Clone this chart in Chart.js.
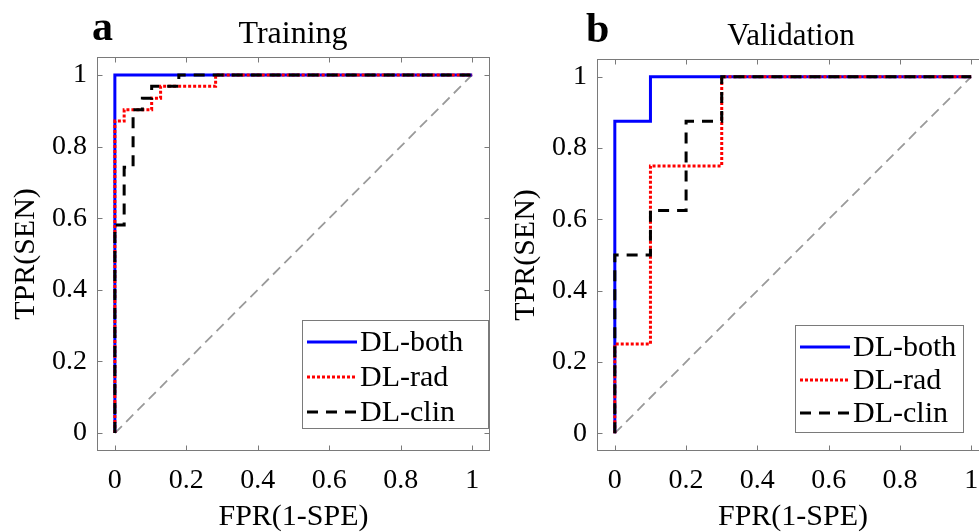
<!DOCTYPE html>
<html>
<head>
<meta charset="utf-8">
<script src="https://cdn.jsdelivr.net/npm/chart.js@4.4.1/dist/chart.umd.min.js"></script>
<style>
  html, body { margin: 0; padding: 0; background: #fff; }
  body { position: relative; width: 979px; height: 532px; overflow: hidden; }
  canvas { position: absolute; top: 0; }
  .lbl {
    position: absolute;
    font-family: 'Liberation Serif', 'Times New Roman', serif;
    line-height: 1;
    white-space: nowrap;
    color: #000;
  }
</style>
</head>
<body>
<canvas id="chartA" width="495" height="532" style="left:0px"></canvas>
<canvas id="chartB" width="495" height="532" style="left:500px"></canvas>

<div class="lbl" style="left:92px;top:5px;font-size:42px;font-weight:bold">a</div>
<div class="lbl" style="left:293px;top:16px;font-size:32px;transform:translateX(-50%)">Training</div>
<div class="lbl" style="left:586px;top:7px;font-size:42px;font-weight:bold">b</div>
<div class="lbl" style="left:791px;top:19px;font-size:31px;transform:translateX(-50%)">Validation</div>

<script>
// tick values / labels (both axes)
const TICKS = [0, 0.2, 0.4, 0.6, 0.8, 1];
const TICK_LABELS = ['0', '0.2', '0.4', '0.6', '0.8', '1'];

// series names
const SERIES = ['DL-both', 'DL-rad', 'DL-clin'];

// Training ROC (step curves)
const TRAIN_BOTH_FPR = [0, 0, 1];
const TRAIN_BOTH_TPR = [0, 1, 1];
const TRAIN_RAD_FPR = [0, 0, 0.026, 0.026, 0.103, 0.103, 0.128, 0.128, 0.282, 0.282, 1];
const TRAIN_RAD_TPR = [0, 0.871, 0.871, 0.903, 0.903, 0.935, 0.935, 0.968, 0.968, 1, 1];
const TRAIN_CLIN_FPR = [0, 0, 0.026, 0.026, 0.051, 0.051, 0.077, 0.077, 0.103, 0.103, 0.179, 0.179, 1];
const TRAIN_CLIN_TPR = [0, 0.581, 0.581, 0.742, 0.742, 0.903, 0.903, 0.935, 0.935, 0.968, 0.968, 1, 1];

// Validation ROC (step curves)
const VAL_BOTH_FPR = [0, 0, 0.1, 0.1, 1];
const VAL_BOTH_TPR = [0, 0.875, 0.875, 1, 1];
const VAL_RAD_FPR = [0, 0, 0.1, 0.1, 0.3, 0.3, 1];
const VAL_RAD_TPR = [0, 0.25, 0.25, 0.75, 0.75, 1, 1];
const VAL_CLIN_FPR = [0, 0, 0.1, 0.1, 0.2, 0.2, 0.3, 0.3, 1];
const VAL_CLIN_TPR = [0, 0.5, 0.5, 0.625, 0.625, 0.875, 0.875, 1, 1];

// chance line
const DIAG_FPR = [0, 1];
const DIAG_TPR = [0, 1];

const FONT = "'Liberation Serif', 'Times New Roman', serif";
const AXIS_COLOR = '#7a7a7a';

const toPoints = (xs, ys) => xs.map((v, i) => ({ x: v, y: ys[i] }));

function makeDatasets(both, rad, clin) {
  return [
    { label: SERIES[2], data: clin, borderColor: '#000000', borderWidth: 3,
      borderDash: [11, 8], order: 0, inLegend: 2 },
    { label: SERIES[1], data: rad, borderColor: '#ff0000', borderWidth: 3,
      borderDash: [3, 2], order: 1, inLegend: 1 },
    { label: SERIES[0], data: both, borderColor: '#0000ff', borderWidth: 3,
      borderDash: [], order: 2, inLegend: 0 },
    { label: 'chance', data: toPoints(DIAG_FPR, DIAG_TPR), borderColor: '#9a9a9a',
      borderWidth: 1.8, borderDash: [10, 6], order: 3 },
  ].map(d => Object.assign({ showLine: true, pointRadius: 0, fill: false, tension: 0 }, d));
}

// box, inward ticks and legend (MATLAB look)
const framePlugin = {
  id: 'frame',
  afterDatasetsDraw(chart, args, opts) {
    const { ctx, chartArea: a, scales: { x, y } } = chart;
    const L = Math.round(a.left) + 0.5, R = Math.round(a.right) - 0.5;
    const T = Math.round(a.top) + 0.5, B = Math.round(a.bottom) - 0.5;
    ctx.save();
    ctx.strokeStyle = AXIS_COLOR;
    ctx.lineWidth = 1;
    ctx.setLineDash([]);
    ctx.strokeRect(L, T, R - L, B - T);
    ctx.beginPath();
    TICKS.forEach(v => {
      const px = Math.round(x.getPixelForValue(v)) + 0.5;
      ctx.moveTo(px, B); ctx.lineTo(px, B - 5);
      ctx.moveTo(px, T); ctx.lineTo(px, T + 5);
      const py = Math.round(y.getPixelForValue(v)) + 0.5;
      ctx.moveTo(L, py); ctx.lineTo(L + 5, py);
      ctx.moveTo(R, py); ctx.lineTo(R - 5, py);
    });
    ctx.stroke();

    // legend
    const box = opts.box;
    ctx.fillStyle = '#fff';
    ctx.fillRect(box.x, box.y, box.w, box.h);
    ctx.strokeStyle = AXIS_COLOR;
    ctx.strokeRect(box.x + 0.5, box.y + 0.5, box.w, box.h);
    const items = chart.data.datasets.filter(d => d.inLegend !== undefined)
      .sort((p, q) => p.inLegend - q.inLegend);
    ctx.font = '30px ' + FONT;
    ctx.textBaseline = 'middle';
    ctx.textAlign = 'left';
    items.forEach((d, i) => {
      const cy = box.y + 22 + i * opts.rowGap;
      ctx.beginPath();
      ctx.strokeStyle = d.borderColor;
      ctx.lineWidth = d.borderWidth;
      ctx.setLineDash(d.borderDash);
      ctx.moveTo(box.x + 5, cy);
      ctx.lineTo(box.x + 55, cy);
      ctx.stroke();
      ctx.fillStyle = '#000';
      ctx.fillText(d.label, box.x + 58, cy + 1);
    });
    ctx.restore();
  }
};

function axis(titleText, isY) {
  return {
    type: 'linear',
    min: -0.05,
    max: 1.05,
    grid: { display: false, drawTicks: false },
    border: { display: false },
    afterBuildTicks: s => { s.ticks = TICKS.map(v => ({ value: v })); },
    afterFit: s => { if (isY) s.width = 97; else s.height = 81; },
    ticks: {
      color: '#000',
      padding: isY ? 10 : 13,
      maxRotation: 0,
      autoSkip: false,
      font: { family: FONT, size: 28 },
      callback: (v, i) => TICK_LABELS[i],
    },
    title: {
      display: true,
      text: titleText,
      color: '#000',
      font: { family: FONT, size: 30, lineHeight: 1 },
      padding: isY ? { top: 11, bottom: 0 } : { top: 0, bottom: 0 },
    },
  };
}

function renderChart(id, datasets, layoutPad, legendBox, rowGap) {
  return new Chart(document.getElementById(id), {
    type: 'scatter',
    data: { datasets },
    plugins: [framePlugin],
    options: {
      responsive: false,
      animation: false,
      layout: { padding: layoutPad },
      scales: { x: axis('FPR(1-SPE)', false), y: axis('TPR(SEN)', true) },
      plugins: {
        legend: { display: false },
        tooltip: { enabled: false },
        frame: { box: legendBox, rowGap },
      },
    },
  });
}

renderChart('chartA',
  makeDatasets(toPoints(TRAIN_BOTH_FPR, TRAIN_BOTH_TPR),
               toPoints(TRAIN_RAD_FPR, TRAIN_RAD_TPR),
               toPoints(TRAIN_CLIN_FPR, TRAIN_CLIN_TPR)),
  { left: 0, right: 5, top: 57, bottom: 0 },
  { x: 302, y: 320, w: 186, h: 108 }, 35);

renderChart('chartB',
  makeDatasets(toPoints(VAL_BOTH_FPR, VAL_BOTH_TPR),
               toPoints(VAL_RAD_FPR, VAL_RAD_TPR),
               toPoints(VAL_CLIN_FPR, VAL_CLIN_TPR)),
  { left: 0, right: 6, top: 59, bottom: 0 },
  { x: 295, y: 325, w: 168, h: 107 }, 33);
</script>
</body>
</html>
